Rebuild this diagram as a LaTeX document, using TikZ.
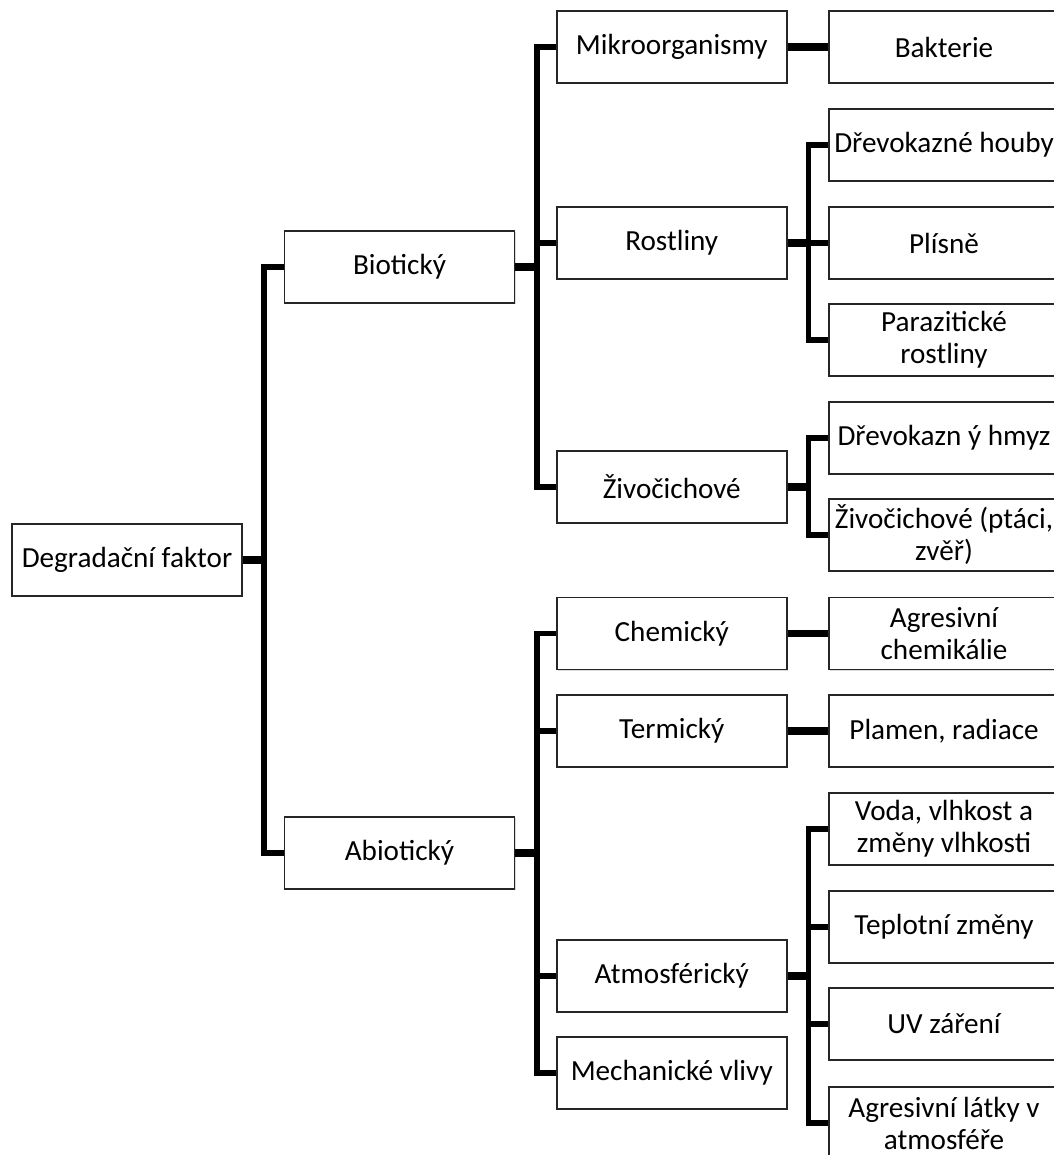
\documentclass[tikz,border=0pt]{standalone}
\usepackage{fontspec}
\setmainfont{Carlito}
\usetikzlibrary{positioning}
\usetikzlibrary{calc}
\usetikzlibrary{shadows}

\begin{document}
\begin{tikzpicture}[
    box/.style={rectangle, draw=black!85, line width=1pt, fill=white, minimum height=1.44cm, minimum width=4.6cm, inner sep=0pt, align=center, font=\fontsize{16.6}{18.2}\selectfont, drop shadow={shadow xshift=0.7pt, shadow yshift=-0.7pt, opacity=0.3}},
    stub/.style={line width=4.4pt},
    link/.style={line width=3.1pt}
]
    \useasboundingbox (0,0) rectangle (21.08,-23.1);

    % root and first level
    \node[box] (root) at (2.54,-11.2) {Degradační faktor};
    \node[box] (bio) at (7.99,-5.34) {Biotický};
    \node[box] (abio) at (7.99,-17.06) {Abiotický};

    % second level
    \node[box] (mikro) at (13.435,-0.94) {Mikroorganismy};
    \node[box] (rost) at (13.435,-4.86) {Rostliny};
    \node[box] (ziv) at (13.435,-9.74) {Živočichové};
    \node[box] (chem) at (13.435,-12.67) {Chemický};
    \node[box] (term) at (13.435,-14.62) {Termický};
    \node[box] (atmo) at (13.435,-19.52) {Atmosférický};
    \node[box] (mech) at (13.435,-21.46) {Mechanické vlivy};

    % third level
    \node[box] (bakt) at (18.88,-0.94) {Bakterie};
    \node[box] (houby) at (18.88,-2.9) {Dřevokazné houby};
    \node[box] (plisne) at (18.88,-4.86) {Plísně};
    \node[box] (paraz) at (18.88,-6.8) {Parazitické\\rostliny};
    \node[box] (hmyz) at (18.88,-8.76) {Dřevokazn ý hmyz};
    \node[box] (zver) at (18.88,-10.7) {Živočichové (ptáci,\\zvěř)};
    \node[box] (agchem) at (18.88,-12.67) {Agresivní\\chemikálie};
    \node[box] (plamen) at (18.88,-14.62) {Plamen, radiace};
    \node[box] (voda) at (18.88,-16.58) {Voda, vlhkost a\\změny vlhkosti};
    \node[box] (tepl) at (18.88,-18.54) {Teplotní změny};
    \node[box] (uv) at (18.88,-20.48) {UV záření};
    \node[box] (aglat) at (18.88,-22.46) {Agresivní látky v\\atmosféře};

    % connectors
    \draw[stub] (root.east) -- ++(0.42,0) coordinate (jroot);
    \draw[link] (jroot) |- (bio.west);
    \draw[link] (jroot) |- (abio.west);

    \draw[stub] (bio.east) -- ++(0.43,0) coordinate (jbio);
    \draw[link] (jbio) |- (mikro.west);
    \draw[link] (jbio) |- (rost.west);
    \draw[link] (jbio) |- (ziv.west);

    \draw[stub] (abio.east) -- ++(0.43,0) coordinate (jabio);
    \draw[link] (jabio) |- (chem.west);
    \draw[link] (jabio) |- (term.west);
    \draw[link] (jabio) |- (atmo.west);
    \draw[link] (jabio) |- (mech.west);

    \draw[stub] (mikro) -- (bakt);

    \draw[stub] (rost.east) -- ++(0.42,0) coordinate (jrost);
    \draw[link] (jrost) |- (houby.west);
    \draw[link] (jrost) |- (plisne.west);
    \draw[link] (jrost) |- (paraz.west);

    \draw[stub] (ziv.east) -- ++(0.42,0) coordinate (jziv);
    \draw[link] (jziv) |- (hmyz.west);
    \draw[link] (jziv) |- (zver.west);

    \draw[stub] (chem) -- (agchem);
    \draw[stub] (term) -- (plamen);

    \draw[stub] (atmo.east) -- ++(0.42,0) coordinate (jatmo);
    \draw[link] (jatmo) |- (voda.west);
    \draw[link] (jatmo) |- (tepl.west);
    \draw[link] (jatmo) |- (uv.west);
    \draw[link] (jatmo) |- (aglat.west);
\end{tikzpicture}
\end{document}
